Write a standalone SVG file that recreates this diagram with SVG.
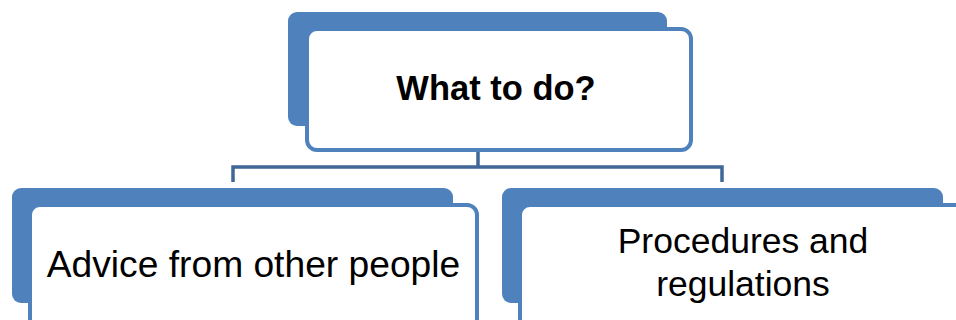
<svg xmlns="http://www.w3.org/2000/svg" width="956" height="320" viewBox="0 0 956 320">
<style>
.back{fill:#4F81BD;}
.front{fill:#FFFFFF;stroke:#4F81BD;stroke-width:4;}
.conn{fill:none;stroke:#3F6797;stroke-width:3.5;}
.t{font-family:"Liberation Sans",Arial,sans-serif;fill:#000;text-anchor:middle;}
</style>
<rect width="956" height="320" fill="#FFFFFF"/>
<g id="connectors">
<path class="conn" d="M478,152 V167 M233,182 V167 H722 V182"/>
</g>
<g id="node-top">
<rect class="back" x="288" y="12" width="379" height="114" rx="9"/>
<rect class="front" x="307" y="29" width="384" height="121" rx="10"/>
<text class="t" x="496" y="100" font-size="34.5" font-weight="bold">What to do?</text>
</g>
<g id="node-advice">
<rect class="back" x="12" y="188" width="441" height="115" rx="9"/>
<rect class="front" x="30" y="205" width="447" height="130" rx="10"/>
<text class="t" x="253.5" y="277" font-size="37.2">Advice from other people</text>
</g>
<g id="node-procedures">
<rect class="back" x="502" y="188" width="441" height="115" rx="9"/>
<rect class="front" x="520" y="205" width="450" height="130" rx="10"/>
<text class="t" x="743" y="253" font-size="35.5">Procedures and</text>
<text class="t" x="743" y="296" font-size="35.5">regulations</text>
</g>
</svg>
